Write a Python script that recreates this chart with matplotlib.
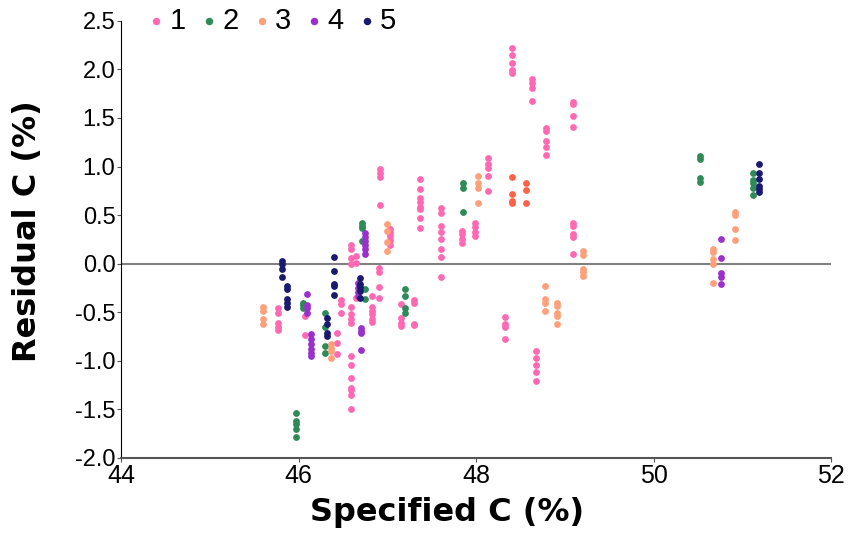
import matplotlib
matplotlib.use('Agg')
import matplotlib.pyplot as plt
from matplotlib import font_manager

# specified C (%) of each sample column, and the residuals measured there
g1_x = [45.77, 46.07, 46.43, 46.48, 46.59, 46.65, 46.83, 46.91, 46.92, 47.03, 47.15,
        47.30, 47.37, 47.61, 47.84, 47.99, 48.14, 48.33, 48.41, 48.63, 48.68, 48.79, 49.09]
g1_y = [[-0.46, -0.51, -0.61, -0.65, -0.68],
        [-0.54, -0.73],
        [-0.71, -0.82, -0.93],
        [-0.37, -0.41, -0.51],
        [0.19, 0.15, 0.06, 0.0, -0.45, -0.52, -0.57, -0.61, -0.95, -1.04, -1.18, -1.28, -1.30, -1.35, -1.50],
        [0.08, 0.01, -0.35],
        [-0.33, -0.45, -0.49, -0.52, -0.57, -0.60],
        [-0.04, -0.09, -0.24, -0.35],
        [0.98, 0.93, 0.89, 0.60],
        [0.36, 0.32, 0.28, 0.24, 0.19],
        [-0.41, -0.56, -0.61, -0.64],
        [-0.37, -0.40, -0.62, -0.63],
        [0.87, 0.77, 0.68, 0.64, 0.58, 0.56, 0.47, 0.37],
        [0.57, 0.52, 0.39, 0.33, 0.25, 0.15, 0.07, -0.14],
        [0.34, 0.31, 0.25, 0.21],
        [0.42, 0.38, 0.33, 0.29],
        [1.09, 1.03, 0.99, 0.90, 0.75],
        [-0.55, -0.62, -0.65, -0.78],
        [2.22, 2.15, 2.07, 1.99, 1.96],
        [1.90, 1.86, 1.81, 1.68],
        [-0.90, -0.97, -1.04, -1.12, -1.21],
        [1.40, 1.37, 1.26, 1.20, 1.12],
        [1.66, 1.64, 1.52, 1.41, 0.42, 0.39, 0.31, 0.27, 0.10]]

g2_x = [45.97, 46.05, 46.30, 46.72, 46.75, 47.20, 47.85, 50.52, 51.12]
g2_y = [[-1.54, -1.62, -1.65, -1.70, -1.78],
        [-0.40, -0.43, -0.46],
        [-0.51, -0.65, -0.85, -0.92],
        [0.42, 0.39, 0.37, 0.23],
        [-0.26, -0.36],
        [-0.26, -0.33, -0.46, -0.51],
        [0.83, 0.78, 0.53],
        [1.11, 1.08, 0.88, 0.84],
        [0.93, 0.86, 0.83, 0.78, 0.71]]

g3_x = [45.60, 46.37, 47.00, 48.02, 48.78, 48.91, 49.21, 50.67, 50.92]
g3_y = [[-0.45, -0.49, -0.57, -0.62],
        [-0.83, -0.87, -0.90, -0.97],
        [0.41, 0.34, 0.22, 0.13],
        [0.90, 0.83, 0.78, 0.62],
        [-0.23, -0.36, -0.40, -0.49],
        [-0.40, -0.44, -0.51, -0.54, -0.62],
        [0.13, 0.09, -0.05, -0.09, -0.13],
        [0.15, 0.12, 0.05, 0.0, -0.20],
        [0.53, 0.50, 0.36, 0.24]]

g4_x = [46.10, 46.14, 46.67, 46.70, 46.75, 50.76]
g4_y = [[-0.31, -0.43, -0.46, -0.51],
        [-0.72, -0.78, -0.83, -0.88, -0.92, -0.95],
        [-0.20, -0.25, -0.29, -0.33],
        [-0.66, -0.69, -0.71, -0.89],
        [0.32, 0.27, 0.23, 0.19, 0.15, 0.10],
        [0.25, 0.06, -0.10, -0.14, -0.21]]

g5_x = [45.81, 45.87, 46.32, 46.40, 46.69, 51.19]
g5_y = [[0.03, 0.0, -0.05, -0.14],
        [-0.23, -0.26, -0.36, -0.40, -0.45],
        [-0.56, -0.62, -0.71, -0.74],
        [0.07, -0.08, -0.21, -0.23, -0.32],
        [-0.15, -0.21, -0.24, -0.28, -0.35],
        [1.03, 0.93, 0.87, 0.80, 0.77, 0.74]]

# extra points with no legend entry
g6_x = [48.41, 48.56]
g6_y = [[0.89, 0.72, 0.65, 0.62],
        [0.83, 0.76, 0.62]]

labels = ['1', '2', '3', '4', '5']
colors = ['#FF69B4', '#2E8B57', '#FFA07A', '#9932CC', '#191970']


def expand(xs, ys):
    px = []
    py = []
    for x, col in zip(xs, ys):
        for v in col:
            px.append(x)
            py.append(v)
    return px, py


def pick_font(names):
    have = {f.name for f in font_manager.fontManager.ttflist}
    for n in names:
        if n in have:
            return n
    return 'DejaVu Sans'


tick_font = pick_font(['Liberation Sans', 'Arial'])
narrow_font = pick_font(['Liberation Sans Narrow', 'Liberation Sans'])

fig = plt.figure(figsize=(8.48, 5.35), dpi=100)
ax = fig.add_axes([0.1427, 0.144, 0.8373, 0.817])

ax.axhline(0, color='#808080', linewidth=1.5, zorder=1)

groups = [(g1_x, g1_y), (g2_x, g2_y), (g3_x, g3_y), (g4_x, g4_y), (g5_x, g5_y)]
for (xs, ys), lab, c in zip(groups, labels, colors):
    px, py = expand(xs, ys)
    ax.scatter(px, py, s=24, color=c, label=lab, linewidths=0, zorder=3)
px, py = expand(g6_x, g6_y)
ax.scatter(px, py, s=24, color='#FF6347', linewidths=0, zorder=3)

ax.set_xlim(44, 52)
ax.set_ylim(-2.0, 2.5)
ax.set_xticks([44, 46, 48, 50, 52])
ax.set_yticks([-2.0, -1.5, -1.0, -0.5, 0.0, 0.5, 1.0, 1.5, 2.0, 2.5])
ax.set_yticklabels([f'{v:.1f}' for v in ax.get_yticks()])
for t in ax.get_xticklabels():
    t.set_fontfamily(narrow_font)
    t.set_fontsize(18)
for t in ax.get_yticklabels():
    t.set_fontfamily(tick_font)
    t.set_fontsize(17)
ax.tick_params(axis='both', direction='out', length=3, width=0.8, color='#555555', pad=1)

ax.spines['top'].set_visible(False)
ax.spines['right'].set_visible(False)
ax.spines['left'].set_color('black')
ax.spines['bottom'].set_color('#555555')
ax.spines['bottom'].set_linewidth(1.5)

ax.set_xlabel('Specified C (%)', fontfamily='DejaVu Sans', fontweight='bold', fontsize=23)
ax.set_ylabel('Residual C (%)', fontfamily='DejaVu Sans', fontweight='bold', fontsize=23)
ax.xaxis.set_label_coords(0.459, -0.09)
ax.yaxis.set_label_coords(-0.11, 0.52)

ax.legend(loc='center left', bbox_to_anchor=(0.021, 1.0), ncol=5, frameon=False,
          prop={'family': tick_font, 'size': 21}, handletextpad=0.15, columnspacing=0.5,
          handlelength=0.6, markerscale=1.1, borderaxespad=0)

plt.savefig('out.png', dpi=100)
